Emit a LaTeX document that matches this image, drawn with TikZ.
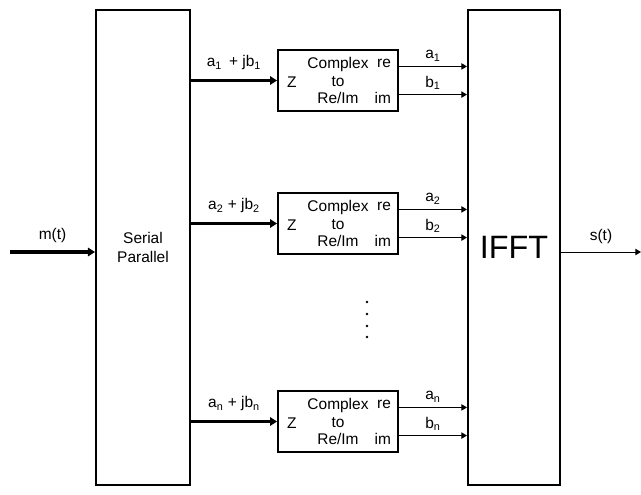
\documentclass[tikz,border=0pt]{standalone}
\usepackage{fontspec}
\setmainfont{Liberation Sans}
\usetikzlibrary{positioning, arrows.meta}

\begin{document}
\begin{tikzpicture}[
        x=0.025cm,
        y=-0.025cm,
        every node/.style={
            font=\fontsize{11}{13}\selectfont,
            align=center
        },
        bigbox/.style={
            rectangle,
            draw,
            line width=1.4pt,
            minimum width=2.35cm,
            minimum height=11.875cm,
            inner sep=0pt
        },
        convbox/.style={
            rectangle,
            draw,
            line width=1.3pt,
            minimum width=3cm,
            minimum height=1.525cm,
            inner sep=2pt,
            font=\fontsize{11}{12.4}\selectfont,
            label={[inner sep=1pt, anchor=west, xshift=6pt, yshift=-1pt]west:Z},
            label={[inner sep=1pt, anchor=east, xshift=-4.5pt, yshift=-10.2pt]north east:re},
            label={[inner sep=1pt, anchor=east, xshift=-4.5pt, yshift=10.3pt]south east:im}
        },
        thickarrow/.style={
            -{Triangle[length=5pt, width=6pt]},
            line width=2.4pt
        },
        thinarrow/.style={
            -{Triangle[length=4pt, width=4.5pt]},
            line width=0.7pt
        }
    ]

    \useasboundingbox (0,0) rectangle (641,495);

    % Main blocks

    \node[bigbox] (serial) at (143,247.5) {Serial\\Parallel};

    \node[bigbox, minimum width=2.3cm, font=\fontsize{23}{27}\selectfont]
    (ifft) at (514,247.5) {IFFT};

    % Complex to Re/Im converters

    \node[convbox] (conv1) at (338,80.5) {Complex\\to\\Re/Im};
    \node[convbox] (conv2) at (338,223.5) {Complex\\to\\Re/Im};
    \node[convbox] (conv3) at (338,421.5) {Complex\\to\\Re/Im};

    % Input and output

    \coordinate (min) at (10,252);
    \coordinate (sout) at (641,252);

    \draw[thickarrow] (min) -- node[above=2pt] {m(t)} (min -| serial.west);
    \draw[thinarrow] (sout -| ifft.east) -- node[above=2pt] {s(t)} (sout);

    % Complex signals

    \draw[thickarrow] (conv1.west -| serial.east) -- node[above=3pt]
    {a\textsubscript{1} \,+ jb\textsubscript{1}} (conv1.west);
    \draw[thickarrow] (conv2.west -| serial.east) -- node[above=3pt]
    {a\textsubscript{2} + jb\textsubscript{2}} (conv2.west);
    \draw[thickarrow] (conv3.west -| serial.east) -- node[above=3pt]
    {a\textsubscript{n} + jb\textsubscript{n}} (conv3.west);

    % Real and imaginary parts

    \draw[thinarrow] ([yshift=10pt]conv1.east) -- node[above]
    {a\textsubscript{1}} ([yshift=10pt]conv1.east -| ifft.west);
    \draw[thinarrow] ([yshift=-10pt]conv1.east) -- node[above]
    {b\textsubscript{1}} ([yshift=-10pt]conv1.east -| ifft.west);

    \draw[thinarrow] ([yshift=10pt]conv2.east) -- node[above]
    {a\textsubscript{2}} ([yshift=10pt]conv2.east -| ifft.west);
    \draw[thinarrow] ([yshift=-10pt]conv2.east) -- node[above]
    {b\textsubscript{2}} ([yshift=-10pt]conv2.east -| ifft.west);

    \draw[thinarrow] ([yshift=10pt]conv3.east) -- node[above]
    {a\textsubscript{n}} ([yshift=10pt]conv3.east -| ifft.west);
    \draw[thinarrow] ([yshift=-10pt]conv3.east) -- node[above]
    {b\textsubscript{n}} ([yshift=-10pt]conv3.east -| ifft.west);

    % Dots

    \foreach \dy in {302,314,326,337}
        \fill (367,\dy) circle (1.4);

\end{tikzpicture}
\end{document}
